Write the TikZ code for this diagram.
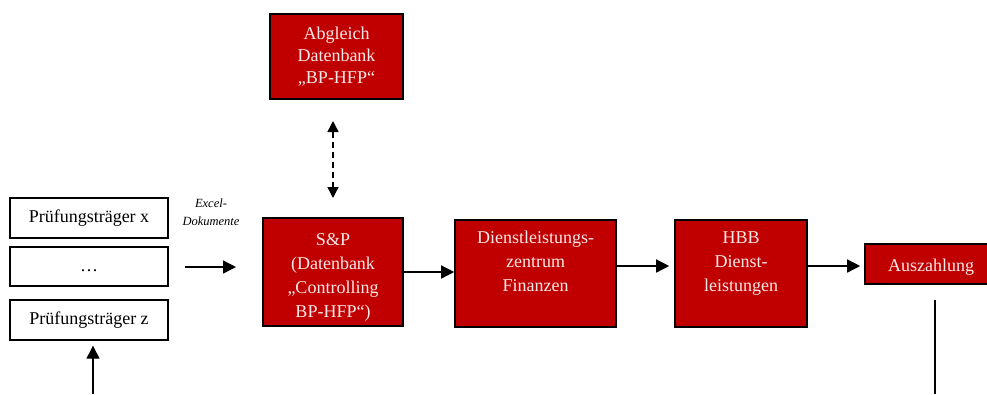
\documentclass[tikz,border=0pt]{standalone}
\usepackage{fontspec}
\setmainfont{Liberation Serif}
\usetikzlibrary{arrows.meta}
\definecolor{boxred}{HTML}{C00000}
\definecolor{boxtext}{HTML}{FBE9E9}
\begin{document}
\begin{tikzpicture}[x=1pt,y=-1pt,
  tip/.tip={Triangle[length=13pt,width=13pt]},
  smalltip/.tip={Triangle[length=11pt,width=11pt]},
  redbox/.style={draw=black,line width=1.6pt,fill=boxred,text=boxtext,
    align=center,font=\fontsize{18}{24}\selectfont,inner sep=0pt},
  redtext/.style={text=boxtext,align=center,font=\fontsize{18}{24}\selectfont,inner sep=0pt},
  whitebox/.style={draw=black,line width=1.4pt,fill=white,align=center,
    font=\fontsize{18}{24}\selectfont,inner sep=0pt},
  flow/.style={line width=1.4pt,-tip},
  plainline/.style={line width=1.4pt}]
\useasboundingbox (0,0) rectangle (987,394);
% main red process boxes
\node[redbox,minimum width=133pt,minimum height=85pt,
  font=\fontsize{18}{22}\selectfont] (abgl) at (336.5,56.5)
  {Abgleich\\Datenbank\\„BP-HFP“};
\node[redbox,minimum width=140pt,minimum height=108pt,
  label={[redtext,yshift=-5pt]center:S\&P\\(Datenbank\\„Controlling\\BP-HFP“)}] (sp) at (333,272) {};
\node[redbox,minimum width=161pt,minimum height=107pt,anchor=north] (dlz) at (535.5,219)
  {Dienstleistungs-\\zentrum\\Finanzen\\\mbox{}};
\node[redbox,minimum width=132pt,minimum height=107pt,anchor=north] (hbb) at (741,219)
  {HBB\\Dienst-\\leistungen\\\mbox{}};
\node[redbox,minimum width=132pt,minimum height=40pt,
  label={[redtext,yshift=-3pt]center:Auszahlung}] (ausz) at (931,264) {};
% white source boxes
\node[whitebox,minimum width=158pt,minimum height=40pt] (px) at (89,218) {Prüfungsträger x};
\node[whitebox,minimum width=158pt,minimum height=39pt,
  label={[yshift=-4pt,font=\fontsize{18}{24}\selectfont]center:\dots}] (pd) at (89,266.5) {};
\node[whitebox,minimum width=158pt,minimum height=40pt] (pz) at (89,320) {Prüfungsträger z};
% connectors
\coordinate (exA) at (185,267);
\coordinate (exB) at (236,267);
\draw[flow] (exA) -- (exB);
\node[font=\fontsize{12.5}{18}\selectfont\itshape,align=center] (excel) at (211,212)
  {Excel-\\Dokumente};
\coordinate (dA) at (333,121);
\coordinate (dB) at (333,198);
\draw[line width=1.4pt,dash pattern=on 6pt off 4pt,smalltip-smalltip] (dA) -- (dB);
\draw[flow] (sp.east |- 0,272) -- (dlz.west |- 0,272);
\draw[flow] (dlz.east |- 0,266) -- ([xshift=-5pt]hbb.west |- 0,266);
\draw[flow] (hbb.east |- 0,266) -- ([xshift=-4pt]ausz.west |- 0,266);
\coordinate (upA) at (93,394);
\draw[flow] (upA) -- ([yshift=-5pt]pz.south -| upA);
\coordinate (downA) at (935,300);
\coordinate (downB) at (935,394);
\draw[plainline] (downA) -- (downB);
\end{tikzpicture}
\end{document}
